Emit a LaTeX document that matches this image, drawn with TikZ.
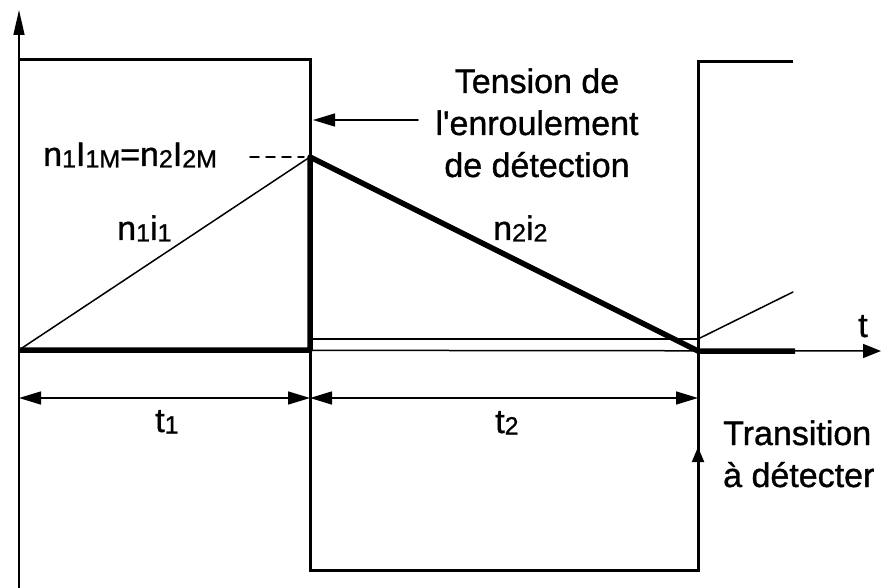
\documentclass[tikz,border=0pt]{standalone}
\usepackage{fontspec}
\setmainfont{Liberation Sans}[Ligatures=TeXOff,FakeBold=1]
\usetikzlibrary{arrows.meta}
\newcommand{\sbs}[1]{\raisebox{-1.5pt}{\fontsize{25}{25}\selectfont #1}}
\tikzset{
  thinline/.style={line width=1.5pt,line cap=round},
  wave/.style={line width=3pt,line join=miter},
  sig/.style={line width=5.5pt,line join=round},
  lbl/.style={inner sep=0pt,font=\fontsize{34}{42}\selectfont},
  tipA/.style={-{Triangle[length=22pt,width=13pt]}},
  dimarrow/.style={thinline,{Triangle[length=22pt,width=13pt]}-{Triangle[length=22pt,width=13pt]}}
}
\begin{document}
\begin{tikzpicture}[x=1pt,y=-1pt]
\useasboundingbox (0,0) rectangle (881,588);
% coordinates
\coordinate (yb) at (19,588);
\coordinate (yt) at (19,10);
\coordinate (O) at (19,350);
\coordinate (tend) at (881,351);
\coordinate (A) at (310,350);
\coordinate (P) at (310,157);
\coordinate (B) at (698,351);
\coordinate (Bt) at (795,351);
\coordinate (U1) at (310,339);
\coordinate (U2) at (698,339);
\coordinate (R) at (793,292);
\coordinate (D1) at (250,157);
\coordinate (D2) at (304,157);
\coordinate (w0) at (19,60);
\coordinate (w1) at (310,60);
\coordinate (w2) at (310,570);
\coordinate (w3) at (698,570);
\coordinate (w4) at (698,62);
\coordinate (w5) at (793,62);
\coordinate (d0) at (19,398);
\coordinate (d1) at (310,398);
\coordinate (d2) at (698,398);
\coordinate (ua) at (698,447);
\coordinate (ta) at (418,120);
\coordinate (tb) at (313,120);
% axes
\draw[thinline,-{Triangle[length=25pt,width=11pt]}] (yb) -- (yt);
\draw[thinline,-{Triangle[length=18pt,width=14pt]}] (O) -- (tend);
% square wave
\draw[wave] (w0) -- (w1) -- (w2) -- (w3) -- (w4) -- (w5);
% thin lines
\draw[thinline] (U1) -- (U2);
\draw[thinline] (O) -- (P);
\draw[thinline] (U2) -- (R);
\draw[thinline,dashed,dash pattern=on 9pt off 7pt] (D1) -- (D2);
% thick signal
\draw[sig] (O) -- (A) -- (P) -- (B) -- (Bt);
% dimension arrows
\draw[dimarrow] (d0) -- (d1);
\draw[dimarrow] (d1) -- (d2);
% upward arrow on transition
\draw[line width=2pt,-{Triangle[length=15pt,width=12pt]}] (w3) -- (ua);
% label arrow
\draw[thinline,tipA] (ta) -- (tb);
% labels
\node[lbl,anchor=base,align=center] (tens) at (537,177) {Tension de\\l'enroulement\\de détection};
\node[lbl,anchor=base west] (peak) at (43,166) {n\sbs{1}I\sbs{1M}=n\sbs{2}I\sbs{2M}};
\node[lbl,anchor=base west] (n1) at (117,240) {n\sbs{1}i\sbs{1}};
\node[lbl,anchor=base west] (n2) at (493,240) {n\sbs{2}i\sbs{2}};
\node[lbl,anchor=base west] (tl) at (858,337) {t};
\node[lbl,anchor=base west] (t1) at (155,432) {t\sbs{1}};
\node[lbl,anchor=base west] (t2) at (495,433) {t\sbs{2}};
\node[lbl,anchor=base west,align=left] (trans) at (723,487) {Transition\\à détecter};
\end{tikzpicture}
\end{document}
